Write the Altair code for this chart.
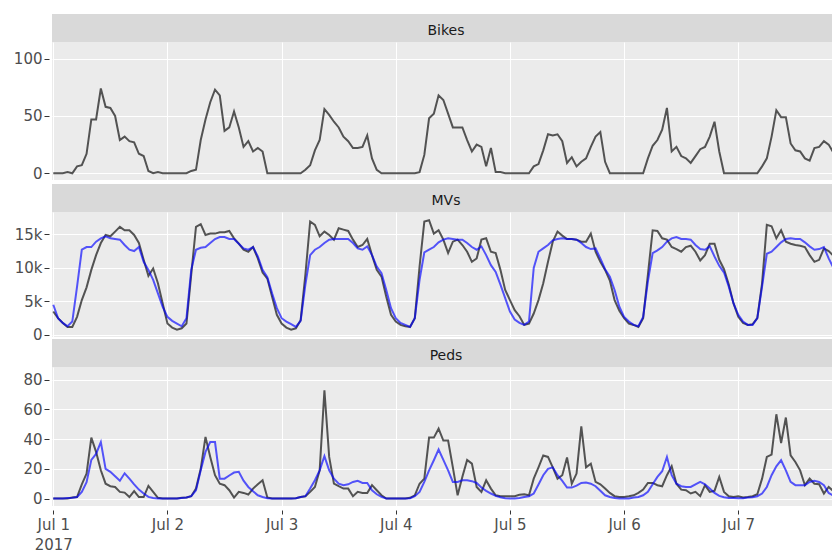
import altair as alt
import pandas as pd

# ---------------- data (hourly, 2017-07-01 00:00 .. 2017-07-07 20:00 UTC) ----------------
bikes_obs = [
    0, 0, 0, 1, 0, 6, 7, 17, 47, 47, 74, 58, 57, 50, 29, 32, 28, 27, 17, 15, 2, 0, 1, 0,
    0, 0, 0, 0, 0, 2, 3, 29, 47, 62, 73, 68, 37, 40, 54, 40, 23, 28, 19, 22, 19, 0, 0, 0,
    0, 0, 0, 0, 0, 3, 7, 20, 29, 56, 51, 45, 40, 32, 28, 22, 22, 23, 33, 13, 3, 0, 0, 0,
    0, 0, 0, 0, 0, 1, 16, 48, 52, 68, 64, 52, 40, 40, 40, 29, 19, 25, 23, 6, 22, 1, 1, 0,
    0, 0, 0, 0, 0, 6, 8, 20, 34, 33, 34, 28, 9, 14, 6, 10, 13, 23, 32, 36, 10, 0, 0, 0,
    0, 0, 0, 0, 0, 13, 24, 29, 38, 57, 19, 23, 15, 13, 9, 15, 21, 23, 32, 45, 19, 0, 0, 0,
    0, 0, 0, 0, 0, 6, 13, 32, 55, 49, 49, 26, 20, 19, 13, 11, 22, 23, 28, 25, 18,
]

mvs_obs = [
    3500, 2500, 1800, 1200, 1200, 2700, 5200, 7100, 9700, 11900, 13700, 14900, 14700, 15400, 16100, 15600, 15600, 14900, 13700, 11200, 8800, 9900, 7700, 4700,
    1700, 1100, 800, 1000, 1700, 9000, 16100, 16500, 14900, 15100, 15100, 15300, 15300, 15500, 14400, 13600, 12700, 12400, 13100, 11400, 9300, 8400, 5700, 3000,
    1700, 1100, 800, 1000, 2200, 9000, 16900, 16400, 14700, 15400, 14900, 14200, 15900, 15700, 15500, 14200, 13100, 13400, 14300, 11900, 9700, 8700, 5700, 3000,
    2000, 1500, 1300, 1200, 2500, 10200, 16900, 17100, 15100, 15600, 14200, 12200, 13900, 14200, 13400, 12400, 10900, 11400, 14200, 14400, 12400, 12200, 9700, 6700,
    5200, 3700, 2800, 1500, 1700, 3200, 5200, 7700, 10900, 13900, 15400, 14800, 14300, 14300, 14200, 13900, 13900, 15100, 12400, 10900, 9700, 8100, 5200, 3600,
    2500, 1700, 1500, 1200, 2500, 9000, 15600, 15500, 14400, 14200, 13100, 12800, 12400, 13100, 13300, 12400, 11100, 11900, 13600, 13600, 11200, 9800, 7500, 4700,
    2700, 1800, 1500, 1600, 2500, 7700, 16400, 16200, 14400, 15600, 13900, 13600, 13400, 13300, 13100, 11900, 10900, 11200, 12900, 12500, 11800,
]

mvs_pred = [
    4500, 2500, 1800, 1300, 2000, 7200, 12700, 13100, 13100, 13900, 14400, 14700, 14400, 14300, 14200, 13400, 12700, 12500, 13100, 10900, 9700, 8200, 6200, 4200,
    2700, 2100, 1700, 1300, 2500, 9700, 12700, 13000, 13100, 13700, 14300, 14600, 14600, 14300, 14300, 13600, 12900, 12700, 13100, 11700, 9700, 8600, 6200, 4000,
    2500, 2000, 1600, 1200, 2100, 7500, 11900, 12700, 13100, 13700, 14200, 14300, 14300, 14300, 14300, 13700, 12900, 12700, 13200, 11900, 10200, 9200, 6700, 4000,
    2500, 1800, 1500, 1200, 2500, 8200, 12300, 12700, 13100, 13800, 14200, 14400, 14300, 14200, 14200, 13700, 13100, 12700, 13200, 11900, 10400, 9400, 7500, 5500,
    3500, 2300, 1800, 1500, 2000, 10000, 12400, 12900, 13400, 14100, 14300, 14400, 14300, 14300, 14200, 13700, 13100, 12800, 12900, 11400, 9800, 8700, 6700, 4200,
    2700, 2000, 1500, 1300, 2700, 8000, 12200, 12600, 13100, 13900, 14400, 14600, 14300, 14300, 14200, 13400, 12800, 12700, 13200, 11700, 10300, 9300, 7200, 4700,
    3000, 2000, 1500, 1500, 2500, 7200, 12100, 12400, 13100, 13800, 14300, 14400, 14300, 14300, 13800, 13200, 12700, 12800, 13100, 11400, 10000,
]

peds_obs = [
    0, 0, 0, 0, 0.7, 1, 9.6, 16.8, 41, 31.4, 19, 10, 8.3, 7.8, 4.5, 4, 1, 5, 1, 1, 8.5, 4.5, 0.5, 0,
    0, 0, 0, 0.5, 0.7, 1.6, 6.7, 20, 41.5, 28, 15.7, 10, 9, 5.6, 0.7, 4.5, 3.8, 2.7, 6.7, 9.6, 12.3, 0.7, 0, 0,
    0, 0, 0, 0.2, 1.1, 1.6, 4.5, 7.8, 19, 72.8, 28, 10, 8.3, 6.7, 6.7, 1.6, 4.5, 3.8, 3.8, 9, 5.6, 2.2, 0, 0,
    0, 0, 0, 0.5, 2.2, 10, 13.4, 41, 41, 47, 39, 39, 21, 2.2, 14.6, 26, 23.5, 7.8, 4.5, 12.3, 6.7, 2.2, 1.6, 1.6,
    1.6, 1.6, 2.5, 2.9, 2.2, 13.4, 21, 29, 28, 21, 13.4, 15.7, 27.6, 10, 16.8, 48.6, 21, 23.5, 11.2, 9.6, 6.7, 3.8, 1.6, 1.1,
    1.1, 1.6, 2.2, 3.8, 6, 10.5, 10.5, 9, 8.3, 15.7, 21.7, 10, 6, 5.6, 3.4, 4.5, 1.6, 9, 4.5, 5.2, 14.6, 4.5, 1.6, 1.1,
    1.6, 0.7, 1.1, 1.6, 2.9, 13.4, 28, 29.6, 56.7, 37.4, 54.5, 29, 24.6, 19, 9, 13.4, 10, 9.6, 3.4, 7.8, 5,
]

peds_pred = [
    0, 0, 0, 0.3, 0.5, 1, 4.5, 11, 26, 30, 38, 20, 18, 15, 12, 17, 13.4, 9.6, 6, 3.4, 1.1, 0.4, 0, 0,
    0, 0, 0, 0.4, 0.7, 1.6, 5.6, 19, 31.4, 38, 38, 13.4, 13.4, 15.5, 17.5, 18, 12, 7.8, 4.9, 2.2, 1.1, 0.2, 0, 0,
    0, 0, 0, 0.2, 1.1, 1.6, 6.7, 12.3, 19, 28.5, 19, 13.4, 10, 9, 9.6, 11.2, 11.9, 10.5, 10.5, 5.6, 2.9, 1.1, 0, 0,
    0, 0, 0, 0.2, 1.6, 4.5, 11.2, 19, 25.8, 33, 26, 19, 11.2, 11.2, 12.3, 12.3, 11.7, 10.5, 7.4, 5.2, 3.4, 1.8, 0.9, 0.2,
    0, 0, 0.4, 1.1, 1.6, 3.4, 9.4, 15.7, 20, 21, 15.7, 11.9, 7.4, 7.4, 8.7, 10.5, 10.8, 10, 8.3, 5.2, 2.2, 1.1, 0.4, 0,
    0, 0, 0.7, 1.1, 2.2, 4.5, 9.6, 14.6, 18.4, 28, 15.7, 10, 8.3, 7.8, 7.8, 9.6, 11.2, 9.6, 6.7, 3.8, 1.8, 0.9, 0.4, 0.4,
    0.2, 0.2, 0.7, 0.9, 1.6, 3.4, 7.8, 15.7, 21.7, 25.8, 19, 11.2, 9, 9, 9, 11.2, 11.9, 11.2, 9, 3.8, 2,
]

panel_names = ["Bikes", "MVs", "Peds"]
n_hours = len(bikes_obs)
times = [f"2017-07-{1 + i // 24:02d}T{i % 24:02d}:00:00Z" for i in range(n_hours)]

# ---------------- styling ----------------
FONT = "DejaVu Sans"
W = 780
GRAY = "#000000"
BLUE = "#0000FF"
PANEL_BG = "#EBEBEB"
STRIP_BG = "#D9D9D9"
TXT = "#4D4D4D"

X0 = alt.DateTime(year=2017, month=6, date=30, hours=23, minutes=44, utc=True)
X1 = alt.DateTime(year=2017, month=7, date=7, hours=19, minutes=42, utc=True)
day_ticks = [alt.DateTime(year=2017, month=7, date=d, utc=True) for d in range(1, 8)]


def frame(values):
    return pd.DataFrame({"time": times[: len(values)], "value": values})


def strip(label, h, gap):
    base = alt.Chart(pd.DataFrame({"label": [label]}))
    rect = base.mark_rect(color=STRIP_BG).encode(
        x=alt.value(0), x2=alt.value(W), y=alt.value(gap), y2=alt.value(h)
    )
    text = base.mark_text(font=FONT, fontSize=14, color="#1A1A1A").encode(
        x=alt.value(394), y=alt.value((gap + h) / 2 + 2.5), text="label:N"
    )
    return alt.layer(rect, text).properties(width=W, height=h)


def panel(obs, pred, ydomain, yvalues, ylabel_expr, h, bottom):
    if bottom:
        xaxis = alt.Axis(
            values=day_ticks, title=None, grid=True, gridColor="white", gridWidth=1,
            domain=False, ticks=True, tickColor="#333333", tickSize=4, offset=4,
            labelPadding=3, labelFont=FONT, labelFontSize=15, labelColor=TXT,
            labelLineHeight=20, labelFlush=False, labelOverlap=False,
            labelExpr="datum.index == 0 ? [utcFormat(datum.value, '%b %-d'), '2017'] : utcFormat(datum.value, '%b %-d')",
        )
    else:
        xaxis = alt.Axis(
            values=day_ticks, title=None, grid=True, gridColor="white", gridWidth=1,
            domain=False, ticks=False, labels=False,
        )
    x = alt.X("time:T", scale=alt.Scale(type="utc", domain=[X0, X1]), axis=xaxis)
    y = alt.Y(
        "value:Q",
        scale=alt.Scale(domain=ydomain, nice=False, zero=False),
        axis=alt.Axis(
            values=yvalues, labelExpr=ylabel_expr, title=None, grid=True, gridColor="white",
            gridWidth=1, domain=False, tickColor="#333333", tickSize=5, offset=3,
            labelPadding=2, labelFont=FONT, labelFontSize=15, labelColor=TXT,
        ),
    )
    layers = [
        alt.Chart(frame(obs)).mark_line(color=GRAY, opacity=0.65, strokeWidth=2, clip=True).encode(x=x, y=y)
    ]
    if pred is not None:
        layers.append(
            alt.Chart(frame(pred)).mark_line(color=BLUE, opacity=0.65, strokeWidth=2, clip=True).encode(x=x, y=y)
        )
    return alt.layer(*layers).properties(
        width=W, height=h, view=alt.ViewBackground(fill=PANEL_BG, strokeWidth=0)
    )


plain = "datum.label"
kilo = "datum.value == 0 ? '0' : format(datum.value / 1000, 'd') + 'k'"

chart = alt.vconcat(
    strip(panel_names[0], 28, 0),
    panel(bikes_obs, None, [-5.9, 114.6], [0, 50, 100], plain, 138, False),
    strip(panel_names[1], 32, 4),
    panel(mvs_obs, mvs_pred, [-300, 18320], [0, 5000, 10000, 15000], kilo, 125, False),
    strip(panel_names[2], 30, 2),
    panel(peds_obs, peds_pred, [-5.0, 88.5], [0, 20, 40, 60, 80], plain, 139, True),
    spacing=0,
    bounds="flush",
).properties(
    padding={"left": 13, "top": 14, "right": 0, "bottom": 0},
    background="white",
).configure_view(strokeWidth=0)

chart.save("out.html", embed_options={"renderer": "svg", "actions": False})
